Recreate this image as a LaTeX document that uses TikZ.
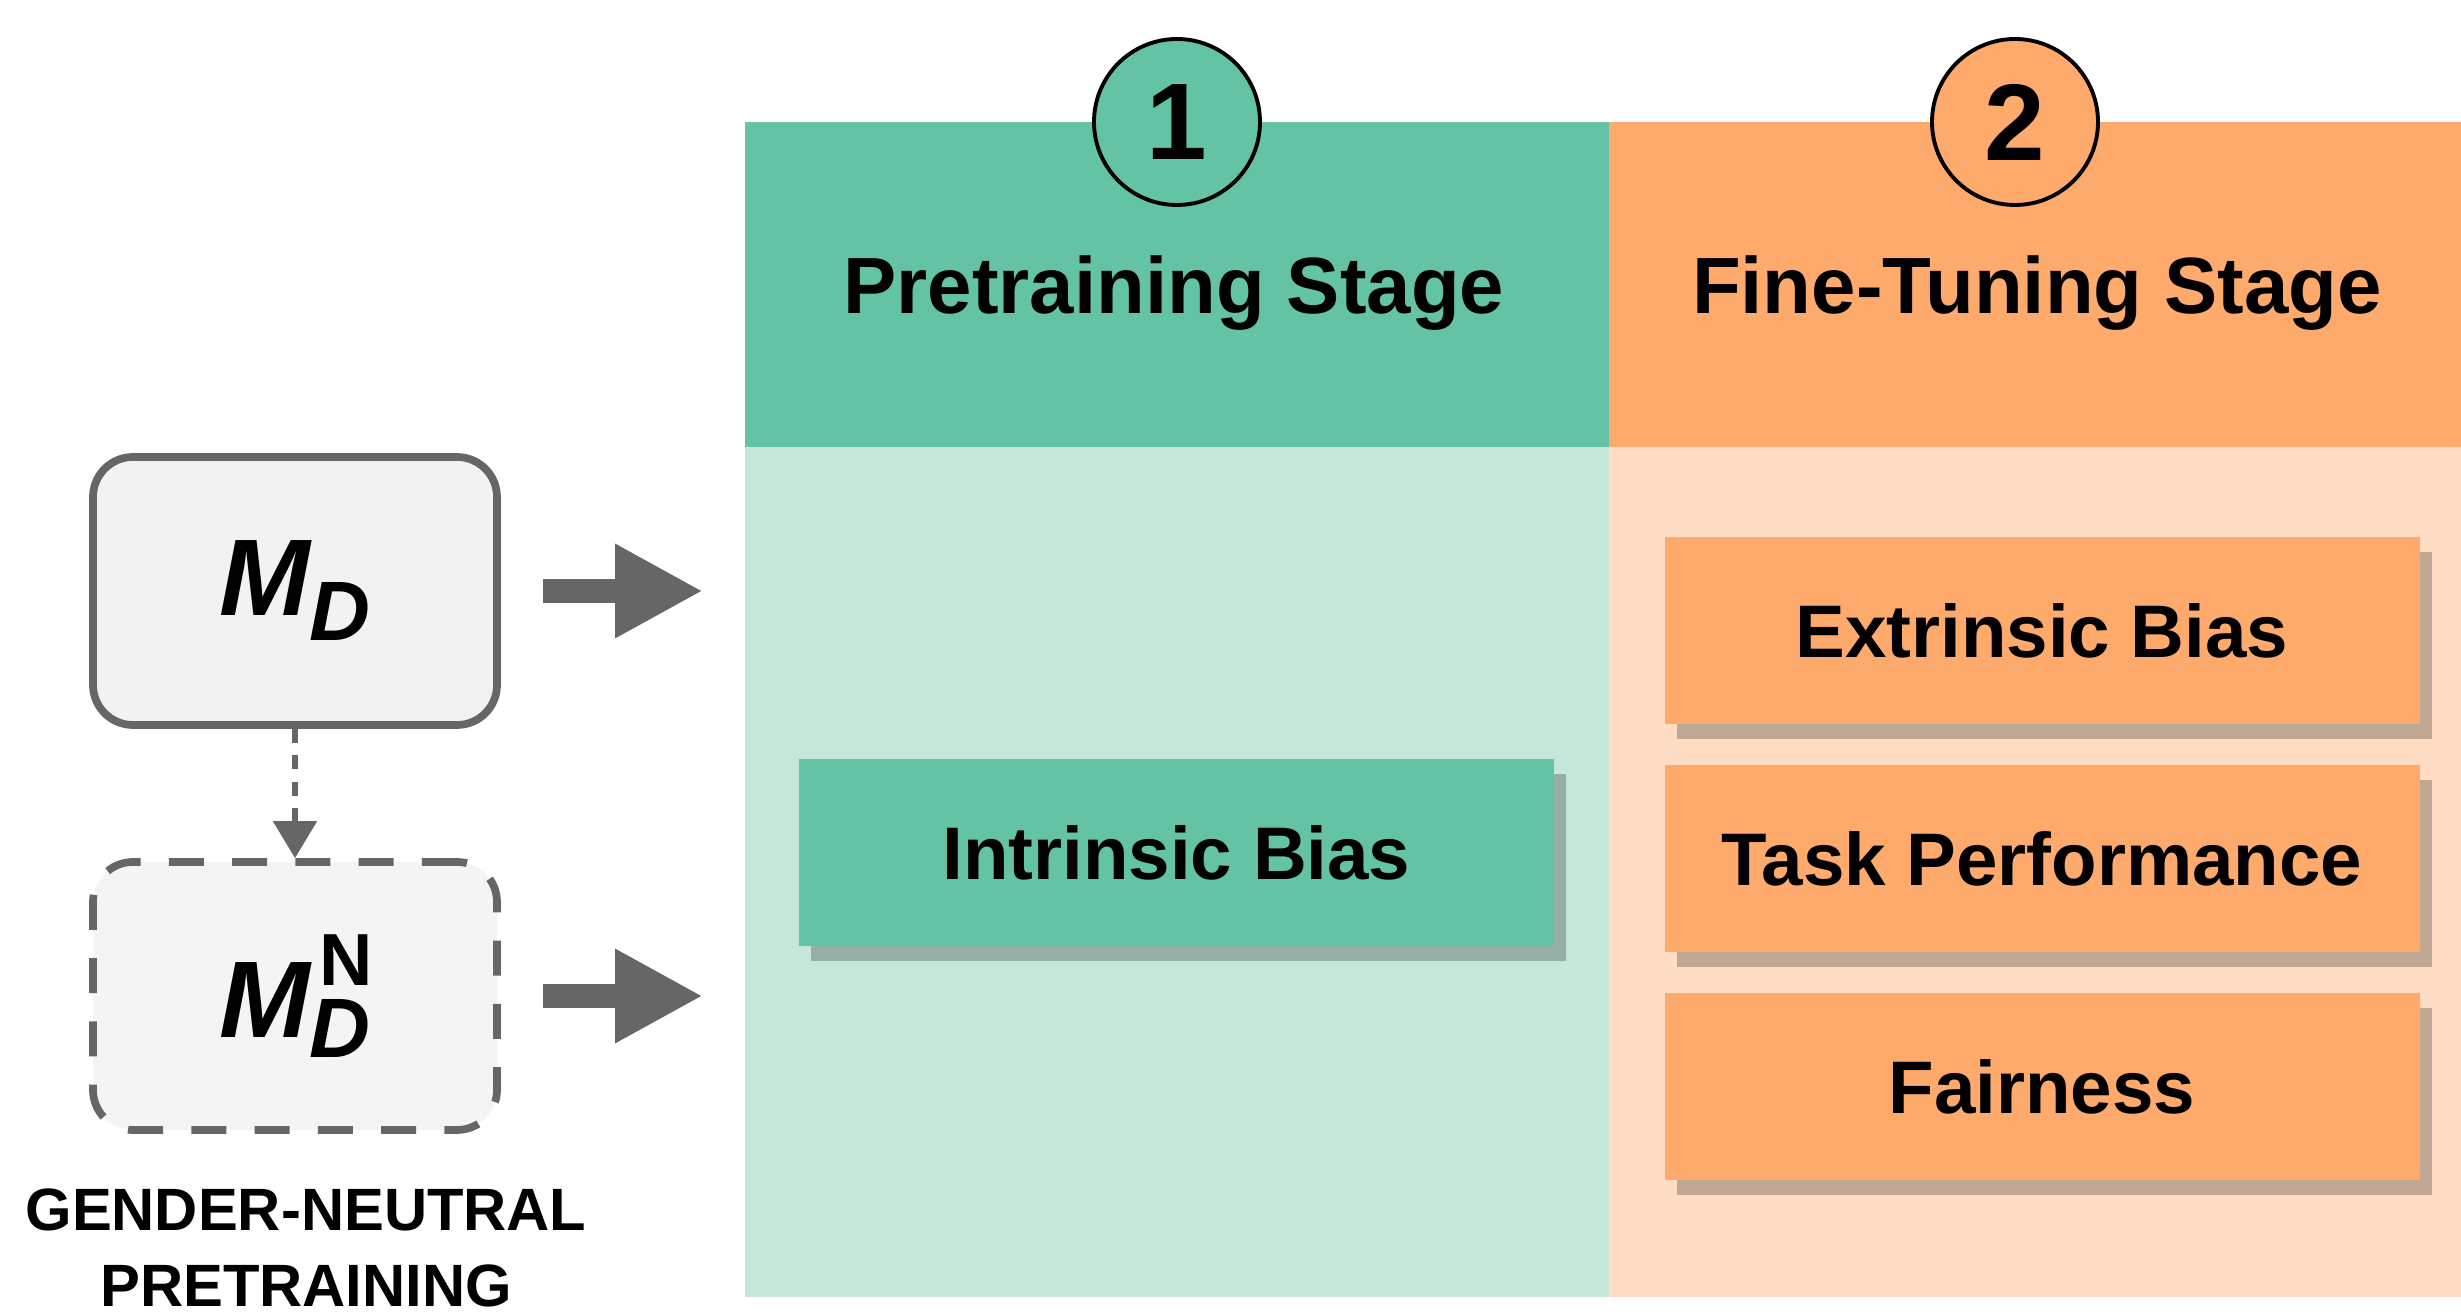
\documentclass[tikz,border=0pt]{standalone}
\usepackage{fontspec}
\setmainfont{Liberation Sans}
\usepackage{tikz}
\usetikzlibrary{arrows.meta,shadows}
\definecolor{stagegreen}{HTML}{64C3A5}
\definecolor{palegreen}{HTML}{C5E7D9}
\definecolor{stageorange}{HTML}{FDAA6C}
\definecolor{paleorange}{HTML}{FEDDC4}
\definecolor{modelgray}{HTML}{666666}
\definecolor{modelfill}{HTML}{F2F2F2}
\definecolor{neutralfill}{HTML}{F4F4F4}
\newcommand{\bigM}{{\fontsize{31}{36}\selectfont\bfseries\itshape M}}
\newcommand{\subD}[1]{\raisebox{#1}{\fontsize{24}{28}\selectfont\bfseries\itshape D}}

\begin{document}
\begin{tikzpicture}[>=Latex,
  stagecol/.style={inner sep=0pt, outer sep=0pt},
  stagetitle/.style={anchor=base, inner sep=0pt, font=\fontsize{22.7}{27}\selectfont\bfseries},
  stagenum/.style={circle, draw=black, line width=1.1pt, minimum size=1.66cm, inner sep=0pt,
    font=\fontsize{31}{31}\selectfont\bfseries},
  metric/.style={minimum width=7.55cm, minimum height=1.87cm, inner sep=0pt,
    font=\fontsize{21.2}{25}\selectfont\bfseries,
    drop shadow={shadow xshift=0.12cm, shadow yshift=-0.15cm, fill=black, opacity=0.24}},
  model/.style={draw=modelgray, line width=2.2pt, rounded corners=0.4cm, fill=modelfill,
    minimum width=4.04cm, minimum height=2.68cm},
  bigarrow/.style={modelgray, line width=0.24cm, -{Triangle[length=0.88cm,width=0.88cm]},
    shorten <=0.42cm, shorten >=0.42cm},
  linkarrow/.style={modelgray, line width=1.5pt, dash pattern=on 4pt off 3.5pt,
    -{Triangle[length=0.37cm,width=0.43cm]}}]
  \useasboundingbox (0,0) rectangle (24.61,13.16);

  % stage columns
  \node[stagecol, fill=stagegreen, minimum width=8.64cm, minimum height=3.25cm] (prehead) at (11.77,10.315) {};
  \node[stagecol, fill=palegreen, minimum width=8.64cm, minimum height=8.5cm] (prebody) at (11.77,4.44) {};
  \node[stagecol, fill=stageorange, minimum width=8.52cm, minimum height=3.25cm] (finehead) at (20.35,10.315) {};
  \node[stagecol, fill=paleorange, minimum width=8.52cm, minimum height=8.5cm] (finebody) at (20.35,4.44) {};
  \node[stagetitle] (pretitle) at (11.74,10.02) {Pretraining Stage};
  \node[stagetitle] (finetitle) at (20.37,10.02) {Fine-Tuning Stage};
  \node[stagenum, fill=stagegreen] (num1) at (prehead.north) {1};
  \node[stagenum, fill=stageorange] (num2) at ([xshift=-0.2cm]finehead.north) {2};

  % metrics
  \node[metric, fill=stagegreen] (intrinsic) at (11.765,4.63) {Intrinsic Bias};
  \node[metric, fill=stageorange] (extrinsic) at (20.42,6.85) {Extrinsic Bias};
  \node[metric, fill=stageorange] (taskperf) at (20.42,4.57) {Task Performance};
  \node[metric, fill=stageorange] (fairness) at (20.42,2.29) {Fairness};

  % models
  \node[model] (md) at (2.95,7.25) {\bigM\subD{-0.25cm}};
  \node[model, dash pattern=on 10pt off 8pt, fill=neutralfill] (mdn) at (2.95,3.2)
    {\bigM\rlap{\kern0.1cm\raisebox{0.52cm}{\fontsize{21}{25}\selectfont\bfseries N}}\subD{-0.2cm}};
  \node[font=\fontsize{17}{21.6}\selectfont\bfseries, align=center, inner sep=0pt, anchor=north]
    (gnlabel) at (3.06,1.28) {GENDER-NEUTRAL\\PRETRAINING};

  \draw[bigarrow] (md.east) -- (md.east -| prebody.west);
  \draw[bigarrow] (mdn.east) -- (mdn.east -| prebody.west);
  \draw[linkarrow] (md.south) -- (mdn.north);
\end{tikzpicture}
\end{document}
